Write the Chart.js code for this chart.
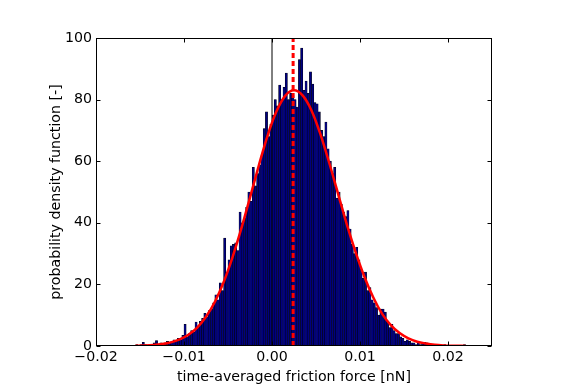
<!DOCTYPE html>
<html><head><meta charset="utf-8">
<script src="https://cdn.jsdelivr.net/npm/chart.js@4/dist/chart.umd.min.js"></script>
<style>html,body{margin:0;padding:0;background:#fff}canvas{display:block}</style>
</head><body>
<canvas id="c" width="575" height="384"></canvas>
<script>
// Histogram bins
const binStart = -0.0155;
const binWidth = 0.00025;
const densityValues = [
  0.5,0,0.5,1.2,0.5,0,0.5,0.5,1,1.8,
  0.5,1,0.5,1,1.5,1,1.5,2,1.5,2.5,
  2,3.5,7,3,4,5,4.5,7.8,6.5,8,
  9,10.6,9.5,11.5,12,14,16.6,15,20.5,18,
  35,24,28,32.5,33,33.5,31,43.5,40,41.5,
  45,50,47,58,52,56,58.8,62,70.6,76,
  68,72,75,80,78,84.7,80,84,88.6,80,
  82,81.5,80,77.6,93,96.7,83,86,82,89,
  85,79,78.6,76,70,68,72.7,64,60,56,
  58,48,50,46,43.5,42,44,38,33,30,
  32,28,25,22,24,18,19,15,14,12.5,
  10,12,12,11,8,6,7,5,4,4,
  3,2.5,1.5,2,1.5,1,1,0.5,1,0.5,
  1,1.2,1,0.5,0,0.5,0,0.5,0,0,
  0.5,0,0,0,0,0,0,0,0,0.5
];
// Fitted curve
const fitX = [-0.0155,-0.0145,-0.0135,-0.0125,-0.0115,-0.0105,-0.0095,-0.0085,-0.0075,-0.0065,
  -0.0055,-0.0045,-0.0035,-0.0025,-0.0015,-0.0005,0.0005,0.0015,0.0025,0.0035,
  0.0045,0.0055,0.0065,0.0075,0.0085,0.0095,0.0105,0.0115,0.0125,0.0135,
  0.0145,0.0155,0.0165,0.0175,0.0185,0.0195,0.0205,0.0215,0.022];
const fitY = [0.07,0.16,0.32,0.63,1.18,2.12,3.65,6.0,9.5,14.3,
  20.7,28.7,38.0,48.2,58.6,68.3,76.1,81.2,83.0,81.3,
  76.4,68.8,59.5,49.5,39.5,30.5,22.5,15.8,10.5,6.8,
  4.2,2.5,1.4,0.8,0.4,0.2,0.1,0.05,0.03];
const meanValue = 0.0024;
const zeroLineX = 0;
const xTickValues = [-0.02,-0.01,0,0.01,0.02];
const xTickLabels = ['\u22120.02','\u22120.01','0.00','0.01','0.02'];
const yTickValues = [0,20,40,60,80,100];
const yTickLabels = ['0','20','40','60','80','100'];

const FONT = "'DejaVu Sans', sans-serif";
const FS = 14.2;
Chart.defaults.font.family = FONT;
Chart.defaults.color = '#000';

const framePlugin = {
  id: 'frame',
  afterDraw(chart) {
    const {ctx, chartArea: a, scales: {x, y}} = chart;
    ctx.save();
    ctx.strokeStyle = '#000';
    ctx.lineWidth = 1;
    const L = Math.round(a.left) + 0.5, R = Math.round(a.right) - 0.5;
    const T = Math.round(a.top) + 0.5, B = Math.round(a.bottom) - 0.5;
    ctx.strokeRect(L, T, R - L, B - T);
    const tl = 4;
    ctx.beginPath();
    xTickValues.forEach(v => {
      const px = Math.round(x.getPixelForValue(v)) + 0.5;
      ctx.moveTo(px, B); ctx.lineTo(px, B - tl);
      ctx.moveTo(px, T); ctx.lineTo(px, T + tl);
    });
    yTickValues.forEach(v => {
      const py = Math.round(y.getPixelForValue(v)) + 0.5;
      ctx.moveTo(L, py); ctx.lineTo(L + tl, py);
      ctx.moveTo(R, py); ctx.lineTo(R - tl, py);
    });
    ctx.stroke();
    ctx.restore();
  }
};

new Chart(document.getElementById('c'), {
  type: 'bar',
  data: {
    datasets: [
      {
        type: 'line',
        data: [{x: meanValue, y: 0}, {x: meanValue, y: 100}],
        borderColor: '#ff0000', borderWidth: 3, borderDash: [5, 3],
        pointRadius: 0, fill: false, order: 1
      },
      {
        type: 'line',
        data: fitX.map((v, i) => ({x: v, y: fitY[i]})),
        borderColor: '#ff0000', borderWidth: 2.5,
        cubicInterpolationMode: 'monotone',
        pointRadius: 0, fill: false, order: 2
      },
      {
        type: 'line',
        data: [{x: zeroLineX, y: 0}, {x: zeroLineX, y: 100}],
        borderColor: '#000000', borderWidth: 1,
        pointRadius: 0, fill: false, order: 3
      },
      {
        type: 'bar',
        data: densityValues.map((v, i) => ({x: binStart + (i + 0.5) * binWidth, y: v})),
        backgroundColor: '#000080', borderColor: '#000000', borderWidth: 0.5,
        borderSkipped: 'bottom',
        barPercentage: 1, categoryPercentage: 1, grouped: false, order: 4
      }
    ]
  },
  options: {
    responsive: false,
    animation: false,
    events: [],
    layout: {padding: {left: 0, right: 83, top: 38, bottom: 0}},
    plugins: {legend: {display: false}, tooltip: {enabled: false}},
    scales: {
      x: {
        type: 'linear', min: -0.02, max: 0.025, offset: false,
        grid: {display: false, drawTicks: false, offset: false}, border: {display: false},
        afterBuildTicks: s => { s.ticks = xTickValues.map(v => ({value: v})); },
        afterFit: s => { s.height = 38; },
        ticks: {padding: 3, autoSkip: false, maxRotation: 0, font: {size: FS},
          callback: (v, i) => xTickLabels[i]},
        title: {display: true, text: 'time-averaged friction force [nN]',
          font: {size: FS, lineHeight: 1}, padding: {top: 0, bottom: 0}}
      },
      y: {
        type: 'linear', min: 0, max: 100,
        grid: {display: false, drawTicks: false}, border: {display: false},
        afterBuildTicks: s => { s.ticks = yTickValues.map(v => ({value: v})); },
        afterFit: s => { s.width = 96; },
        ticks: {padding: 4, font: {size: FS},
          callback: (v, i) => yTickLabels[i]},
        title: {display: true, text: 'probability density function [-]',
          font: {size: FS, lineHeight: 1}, padding: {top: 49, bottom: 0}}
      }
    }
  },
  plugins: [framePlugin]
});
</script>
</body></html>
